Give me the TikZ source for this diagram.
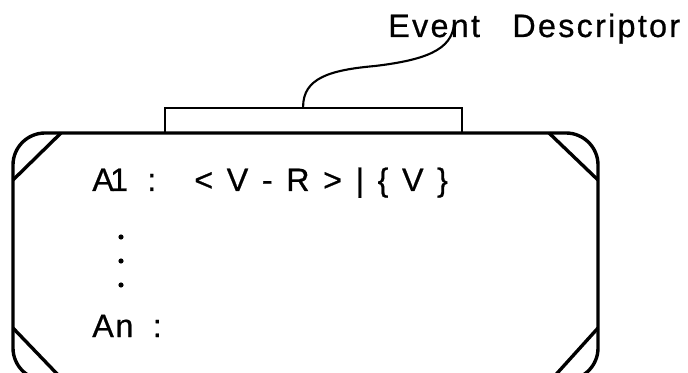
\documentclass[tikz,border=0pt]{standalone}
\usepackage{fontspec}
\setmainfont{Liberation Sans}[LetterSpace=5, FakeBold=0.6]
\newfontfamily\descfont{Liberation Sans}[LetterSpace=7, FakeBold=0.6]
\newcommand{\tsep}{\hspace{0.42em}}

\tikzset{
  frame/.style={line width=2.4pt, line join=round},
  tabbox/.style={draw, line width=1.5pt, rectangle, inner sep=0pt,
    minimum width=7.425cm, minimum height=0.625cm},
  lead/.style={line width=1.5pt},
  txt/.style={inner sep=0pt, anchor=base west, font=\fontsize{23}{27}\selectfont},
}

\begin{document}
\begin{tikzpicture}[x=0.025cm, y=-0.025cm]
\useasboundingbox (0,0) rectangle (688,373);
\clip (0,0) rectangle (688,373);

% tab on the top edge
\node[tabbox] (tab) at (313.5,120.5) {};

% outer card
\draw[frame, rounded corners=0.8cm] (300,133) -- (598,133) -- (598,380)
  -- (13,380) -- (13,133) -- cycle;
\draw[frame] (13,180) -- (61,133);
\draw[frame] (549,133) -- (598,180);
\draw[frame] (13,328) -- (61,378);
\draw[frame] (598,328) -- (551,380);

% label and its leader
\node[txt, font=\descfont\fontsize{23}{27}\selectfont] (desc) at (388,37)
  {Event\hspace{1em}Descriptor};
\coordinate (hook) at (454,24);
\draw[lead] ([xshift=-0.26cm]tab.north) .. controls (303,78) and (330,70)
  .. (375,66) .. controls (425,60) and (452,50) .. (hook);

% attribute lines
\node[txt] (a1) at (92,191) {A\kern-0.12em1\hspace{0.6em}:};
\node[txt] (range) at (194,191)
  {<\tsep V\tsep -\tsep R\tsep >\tsep |\tsep \{\tsep V\tsep \}};
\foreach \y in {237,261,285}
  \fill (121,\y) circle (0.065cm);
\node[txt] (an) at (92,337) {An\hspace{0.6em}:};
\end{tikzpicture}
\end{document}
